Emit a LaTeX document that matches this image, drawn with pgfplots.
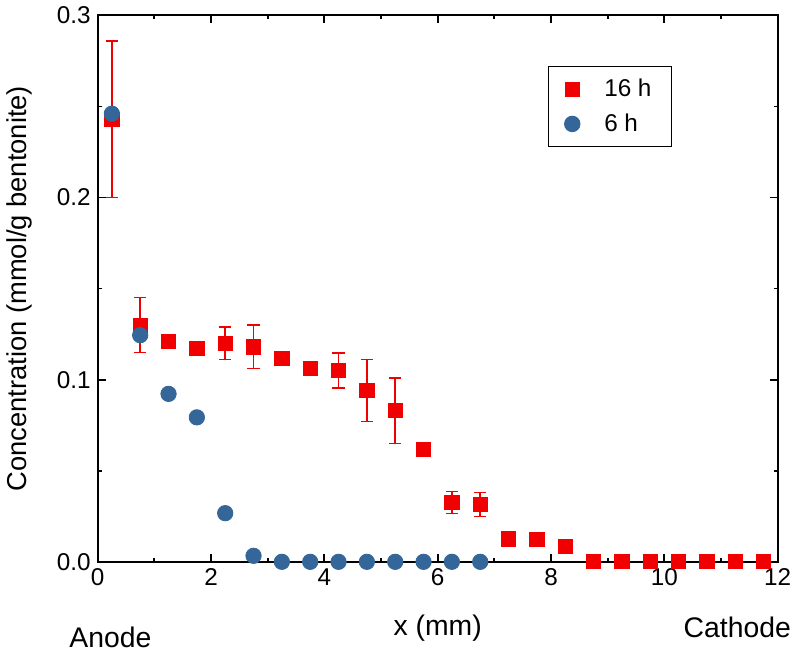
\documentclass[border=0pt]{standalone}
\usepackage{fontspec}
\setmainfont{Liberation Sans}
\usepackage{pgfplots}
\pgfplotsset{compat=1.18}

\definecolor{cred}{RGB}{240,0,0}
\definecolor{cblue}{RGB}{52,102,153}

% error bars drawn as plain red lines with caps
\pgfplotsset{/pgfplots/error bars/draw error bar/.code 2 args={%
    \draw[cred, line width=0.75pt] #1 -- #2;
    \draw[cred, line width=0.75pt] #2 ++(-3pt,0) -- ++(6pt,0);
}}

\begin{document}
\begin{tikzpicture}[font=\fontsize{12}{14}\selectfont]
\begin{axis}[
    name=ax,
    width=336pt, height=270pt,
    scale only axis,
    xmin=0, xmax=12, ymin=0, ymax=0.3,
    xtick={0,2,...,12},
    ytick={0,0.1,0.2,0.3},
    minor x tick num=1,
    minor y tick num=1,
    tick align=inside,
    major tick length=4pt,
    minor tick length=2pt,
    axis line style={line width=1pt},
    every tick/.style={black, line width=0.9pt},
    yticklabel style={/pgf/number format/fixed, /pgf/number format/fixed zerofill, /pgf/number format/precision=1},
    /pgf/number format/assume math mode=true,
    scaled y ticks=false,
    xlabel={x (mm)},
    ylabel={Concentration (mmol/g bentonite)},
    xlabel style={at={(axis description cs:0.5,-0.135)}, anchor=base, font=\fontsize{14}{16}\selectfont},
    ylabel style={at={(axis description cs:-0.115,0.5)}, anchor=center, font=\fontsize{13.5}{16}\selectfont},
    legend style={at={(axis description cs:0.662,0.907)}, anchor=north west,
        draw=black, line width=0.5pt, font=\fontsize{12}{14}\selectfont,
        inner xsep=8pt, inner ysep=4pt, row sep=3pt,
        /tikz/every odd column/.append style={column sep=10pt}},
    legend cell align=left,
]
\addplot[only marks, mark=square*, mark size=3.5pt, color=cred,
    mark options={fill=cred, draw=cred},
    error bars/.cd, y dir=both, y explicit]
coordinates {
(0.25,0.243) +- (0,0.043)
(0.75,0.130) +- (0,0.015)
(1.25,0.121) +- (0,0)
(1.75,0.117) +- (0,0.0037)
(2.25,0.120) +- (0,0.009)
(2.75,0.118) +- (0,0.012)
(3.25,0.1115) +- (0,0)
(3.75,0.106) +- (0,0)
(4.25,0.105) +- (0,0.0095)
(4.75,0.094) +- (0,0.017)
(5.25,0.083) +- (0,0.018)
(5.75,0.0615) +- (0,0)
(6.25,0.0326) +- (0,0.006)
(6.75,0.0315) +- (0,0.0065)
(7.25,0.0126) +- (0,0)
(7.75,0.0124) +- (0,0)
(8.25,0.0085) +- (0,0)
(8.75,0) +- (0,0)
(9.25,0) +- (0,0)
(9.75,0) +- (0,0)
(10.25,0) +- (0,0)
(10.75,0) +- (0,0)
(11.25,0) +- (0,0)
(11.75,0) +- (0,0)
};
\addlegendentry{16 h}
\addplot[only marks, mark=*, mark size=3.8pt, color=cblue,
    mark options={fill=cblue, draw=cblue}]
coordinates {
(0.25,0.246)
(0.75,0.1244)
(1.25,0.0922)
(1.75,0.0793)
(2.25,0.0267)
(2.75,0.0033)
(3.25,0)
(3.75,0)
(4.25,0)
(4.75,0)
(5.25,0)
(5.75,0)
(6.25,0)
(6.75,0)
};
\addlegendentry{6 h}
\end{axis}
\path (ax.south west) ++(-17.5pt,-42.5pt) node[anchor=base west, font=\fontsize{14}{16}\selectfont] {Anode};
\path (ax.south east) ++(10pt,-37.5pt) node[anchor=base east, font=\fontsize{14}{16}\selectfont] {Cathode};
\end{tikzpicture}
\end{document}
